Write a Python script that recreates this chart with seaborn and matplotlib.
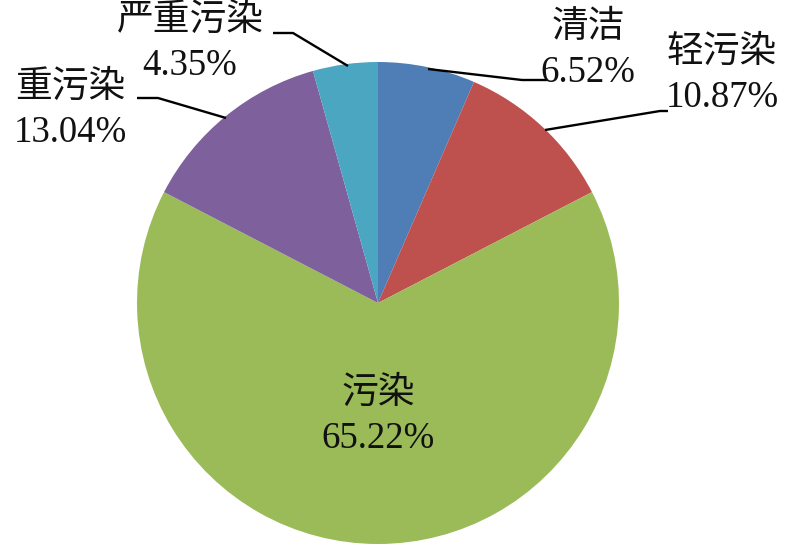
import matplotlib
matplotlib.use('Agg')
import matplotlib.pyplot as plt
import seaborn as sns

categories = ['清洁', '轻污染', '污染', '重污染', '严重污染']
shares = [6.52, 10.87, 65.22, 13.04, 4.35]
colors = ['#4F7DB6', '#BE504D', '#9BBB59', '#7E619C', '#4BA6C2']

sns.set_theme(style='white')
plt.rcParams['font.family'] = ['Liberation Serif', 'Noto Sans CJK SC']

W, H = 800, 558
cx, cy, r = 378, 303, 241

fig = plt.figure(figsize=(8, 5.58), dpi=100)
ax = fig.add_axes([(cx - r) / W, (H - cy - r) / H, 2 * r / W, 2 * r / H])
ax.pie(shares, colors=colors, startangle=90, counterclock=False,
       radius=1, wedgeprops=dict(linewidth=0))
ax.set_xlim(-1, 1)
ax.set_ylim(-1, 1)
ax.set_aspect('auto')
ax.axis('off')


def d(px, py):
    # pixel position -> data coordinates of the pie axes
    return (px - cx) / r, (cy - py) / r


fs = 26.5
# label text positions (pixels) and leader lines (pixels)
label_pos = {
    '清洁': (588, 50),
    '轻污染': (722, 75),
    '重污染': (70, 110),
    '严重污染': (190, 43),
}
leaders = {
    '清洁': [(428, 69), (522, 80), (547, 80)],
    '轻污染': [(545, 130), (660, 111), (668, 111)],
    '重污染': [(226, 118), (158, 98), (137, 98)],
    '严重污染': [(348, 66), (293, 33), (273, 33)],
}

for name, val in zip(categories, shares):
    text = f'{name}\n{val:.2f}%'
    if name == '污染':
        x, y = d(378, 416)
    else:
        x, y = d(*label_pos[name])
        pts = [d(*p) for p in leaders[name]]
        ax.plot([p[0] for p in pts], [p[1] for p in pts], color='black',
                linewidth=1.7, clip_on=False, solid_capstyle='butt')
    ax.text(x, y, text, ha='center', va='center', fontsize=fs,
            linespacing=1.38, color='#111111', clip_on=False)

fig.savefig('out.png', dpi=100)
